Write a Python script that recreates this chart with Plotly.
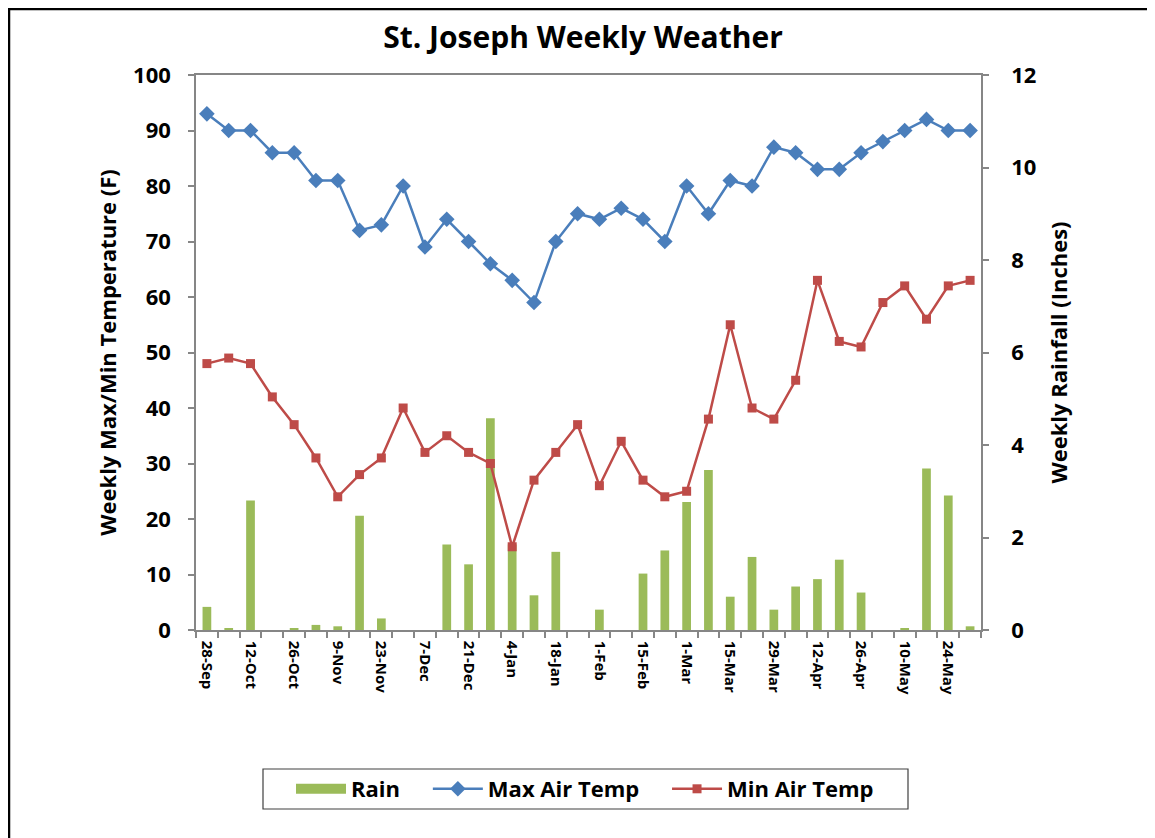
import plotly.graph_objects as go

weeks = ["28-Sep", "5-Oct", "12-Oct", "19-Oct", "26-Oct", "2-Nov", "9-Nov", "16-Nov",
         "23-Nov", "30-Nov", "7-Dec", "14-Dec", "21-Dec", "28-Dec", "4-Jan", "11-Jan",
         "18-Jan", "25-Jan", "1-Feb", "8-Feb", "15-Feb", "22-Feb", "1-Mar", "8-Mar",
         "15-Mar", "22-Mar", "29-Mar", "5-Apr", "12-Apr", "19-Apr", "26-Apr", "3-May",
         "10-May", "17-May", "24-May", "31-May"]

max_temp = [93, 90, 90, 86, 86, 81, 81, 72, 73, 80, 69, 74, 70, 66, 63, 59, 70, 75,
            74, 76, 74, 70, 80, 75, 81, 80, 87, 86, 83, 83, 86, 88, 90, 92, 90, 90]

min_temp = [48, 49, 48, 42, 37, 31, 24, 28, 31, 40, 32, 35, 32, 30, 15, 27, 32, 37,
            26, 34, 27, 24, 25, 38, 55, 40, 38, 45, 63, 52, 51, 59, 62, 56, 62, 63]

rain = [0.50, 0.03, 2.80, 0.0, 0.03, 0.11, 0.08, 2.47, 0.25, 0.0, 0.0, 1.85, 1.42, 4.58,
        1.85, 0.75, 1.69, 0.0, 0.44, 0.0, 1.22, 1.72, 2.77, 3.46, 0.72, 1.58, 0.44, 0.94,
        1.10, 1.52, 0.81, 0.0, 0.03, 3.49, 2.91, 0.08]

temp_ticks = list(range(0, 101, 10))
rain_ticks = list(range(0, 13, 2))

FONT = "Open Sans"
GREEN, BLUE, RED = "#9BBB59", "#4A7EBB", "#BE4B48"
NB = "\u00a0"
idx = list(range(len(weeks)))

fig = go.Figure()
fig.add_trace(go.Bar(x=idx, y=rain, name="Rain", yaxis="y", width=0.4,
                     legendgroup="rain", showlegend=False,
                     marker=dict(color=GREEN, line=dict(width=0))))
# legend-only entry so the Rain key is drawn as a wide block, like the original
fig.add_trace(go.Scatter(x=[None], y=[None], name="Rain" + NB * 4, yaxis="y",
                         legendgroup="rain", mode="lines",
                         line=dict(color=GREEN, width=14)))
fig.add_trace(go.Scatter(x=idx, y=max_temp, name="Max Air Temp" + NB * 4, yaxis="y2",
                         mode="lines+markers",
                         line=dict(color=BLUE, width=2.5),
                         marker=dict(symbol="diamond", size=12, color=BLUE)))
fig.add_trace(go.Scatter(x=idx, y=min_temp, name="Min Air Temp", yaxis="y2",
                         mode="lines+markers",
                         line=dict(color=RED, width=2.5),
                         marker=dict(symbol="square", size=9, color=RED)))

# page body has an 8px margin: lay out in reference pixels minus that offset
OFF = 8
W, H = 1155 - OFF, 838 - OFF
L, R, T, B = 196 - OFF, 981 - OFF, 75 - OFF, 630 - OFF
pw, ph = R - L, B - T

def px(xr):
    return (xr - OFF - L) / pw

def py(yr):
    return (B - (yr - OFF)) / ph

axis_col = "#868686"
fig.update_layout(
    width=W, height=H,
    margin=dict(l=L, r=W - R, t=T, b=H - B, pad=0),
    paper_bgcolor="white", plot_bgcolor="white",
    font=dict(family=FONT, color="black"),
    title=dict(text="St. Joseph Weekly Weather", x=(583 - OFF) / W, y=1 - (37 - OFF) / H,
               xanchor="center", yanchor="middle",
               font=dict(family=FONT, size=30, weight="bold", color="black")),
    showlegend=True,
    legend=dict(orientation="h", x=px(291), y=py(789), xanchor="left", yanchor="middle",
                borderwidth=0, itemwidth=50, bgcolor="rgba(0,0,0,0)",
                font=dict(family=FONT, size=22, weight="bold", color="black")),
    xaxis=dict(range=[-0.5, len(weeks) - 0.5], tickmode="array",
               tickvals=idx[::2], ticktext=weeks[::2], tickangle=90,
               ticks="", ticklabelstandoff=6,
               showline=True, linecolor=axis_col, linewidth=1.5, mirror=True,
               showgrid=False, zeroline=False,
               tickfont=dict(family=FONT, size=15, weight="bold", color="black"),
               minor=dict(ticks="outside", tick0=-0.5, dtick=1, ticklen=6,
                          tickcolor=axis_col, tickwidth=1.5, showgrid=False)),
    yaxis=dict(side="right", range=[0, 12], tickmode="array", tickvals=rain_ticks,
               ticks="outside", ticklen=6, tickcolor=axis_col, tickwidth=1.5,
               ticklabelstandoff=18,
               showline=True, linecolor=axis_col, linewidth=1.5,
               showgrid=False, zeroline=False,
               tickfont=dict(family=FONT, size=22, weight="bold", color="black"),
               title=dict(text="Weekly Rainfall (Inches)", standoff=16,
                          font=dict(family=FONT, size=22, weight="bold", color="black"))),
    yaxis2=dict(side="left", overlaying="y", range=[0, 100], tickmode="array",
                tickvals=temp_ticks, ticks="outside", ticklen=6, tickcolor=axis_col,
                tickwidth=1.5, ticklabelstandoff=13,
                showline=True, linecolor=axis_col, linewidth=1.5,
                showgrid=False, zeroline=False,
                tickfont=dict(family=FONT, size=22, weight="bold", color="black"),
                title=dict(text="Weekly Max/Min Temperature (F)", standoff=10,
                           font=dict(family=FONT, size=22, weight="bold", color="black"))),
)

# legend frame
fig.add_shape(type="rect", xref="paper", yref="paper", x0=px(263), x1=px(908),
              y0=py(809), y1=py(769), line=dict(color="#404040", width=1.2))
# outer chart frame (top, left, right edges)
fig.add_shape(type="line", xref="paper", yref="paper", x0=px(8), x1=px(1151),
              y0=py(9), y1=py(9), line=dict(color="black", width=2.5))
fig.add_shape(type="line", xref="paper", yref="paper", x0=px(9), x1=px(9),
              y0=py(9), y1=py(845), line=dict(color="black", width=2.5))
fig.add_shape(type="line", xref="paper", yref="paper", x0=px(1151), x1=px(1151),
              y0=py(9), y1=py(845), line=dict(color="black", width=2))

fig.write_html("out.html")
